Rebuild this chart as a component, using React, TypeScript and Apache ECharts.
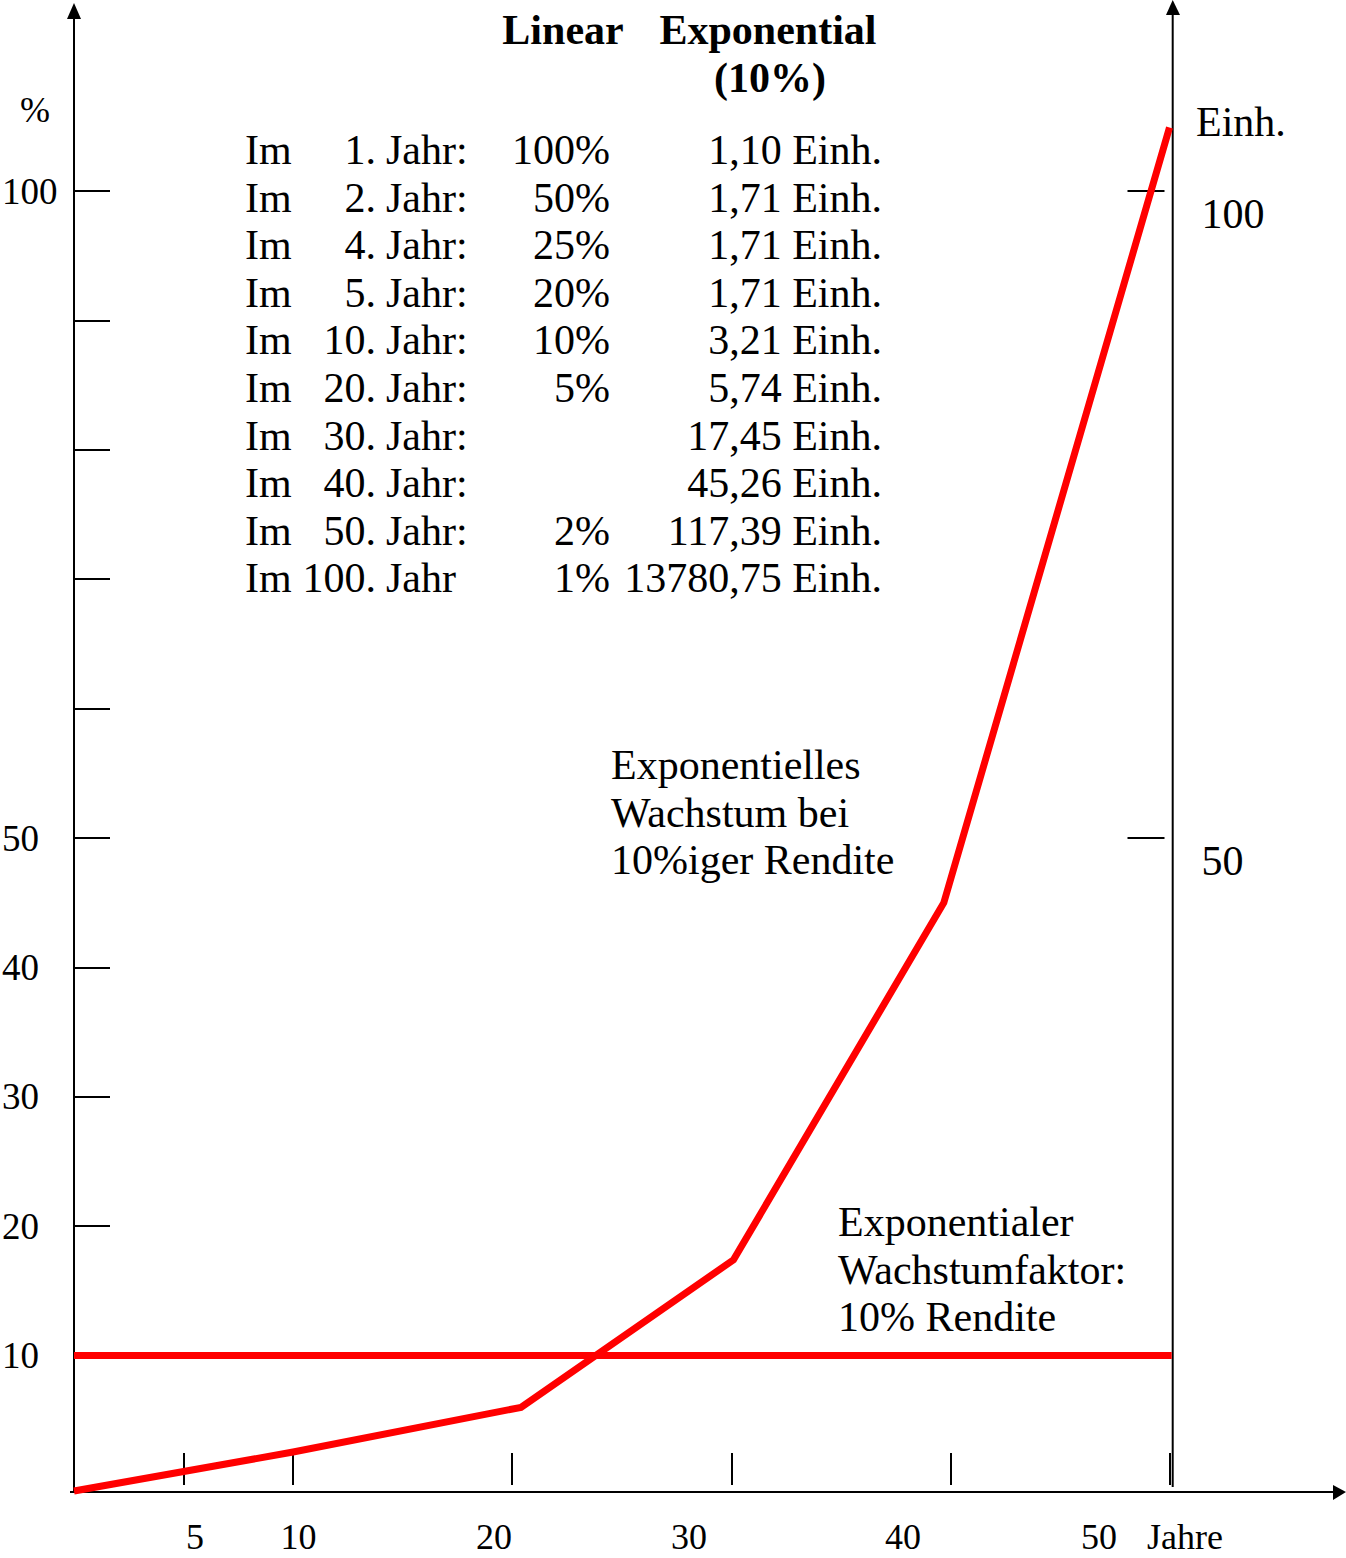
import React, { useEffect, useRef } from "react";
import * as echarts from "echarts";

// ---- data ----
const linearSeries: [number, number][] = [
  [0, 10],
  [50.1, 10],
];
const exponentialSeries: [number, number][] = [
  [0, -0.46],
  [10, 2.55],
  [20.4, 6.0],
  [30.1, 17.4],
  [39.7, 45.0],
  [50, 104.9],
];
const xTickValues = [5, 10, 20, 30, 40, 50];
const xTickLabels = ["5", "10", "20", "30", "40", "50"];
const leftTickValues = [10, 20, 30, 40, 50, 60, 70, 80, 90, 100];
const leftLabelValues = [10, 20, 30, 40, 50, 100];
const rightTickValues = [50, 100];
const rightLabelValues = [50, 100];

const tableYears = ["1.", "2.", "4.", "5.", "10.", "20.", "30.", "40.", "50.", "100."];
const tableYearWords = ["Jahr:", "Jahr:", "Jahr:", "Jahr:", "Jahr:", "Jahr:", "Jahr:", "Jahr:", "Jahr:", "Jahr"];
const tableLinear = ["100%", "50%", "25%", "20%", "10%", "5%", "", "", "2%", "1%"];
const tableExponential = [
  "1,10 Einh.",
  "1,71 Einh.",
  "1,71 Einh.",
  "1,71 Einh.",
  "3,21 Einh.",
  "5,74 Einh.",
  "17,45 Einh.",
  "45,26 Einh.",
  "117,39 Einh.",
  "13780,75 Einh.",
];
const noteExponential = ["Exponentielles", "Wachstum bei", "10%iger Rendite"];
const noteFactor = ["Exponentialer", "Wachstumfaktor:", "10% Rendite"];

// ---- layout ----
const W = 1346;
const H = 1558;
const FONT = '"Liberation Serif", "Times New Roman", serif';
const RED = "#ff0000";
const xLabelCenters = [195, 298.5, 494, 689, 903, 1099];

export default function App() {
  const ref = useRef<HTMLDivElement>(null);

  useEffect(() => {
    if (!ref.current) return;
    const chart = echarts.init(ref.current, null, { renderer: "svg" });

    const txt = (
      text: string,
      x: number,
      y: number,
      size: number,
      align: string = "left",
      weight: string = "normal"
    ) => ({
      type: "text",
      x,
      y,
      silent: true,
      style: {
        text,
        fontSize: size,
        fontFamily: FONT,
        fontWeight: weight,
        lineHeight: size,
        fill: "#000",
        align,
        verticalAlign: "middle",
      },
    });

    const graphics: any[] = [];
    // axis lines with arrows
    const axisStyle = { stroke: "#000", lineWidth: 2 };
    graphics.push({ type: "line", shape: { x1: 74, y1: 1492, x2: 74, y2: 16 }, style: axisStyle, z: 1 });
    graphics.push({ type: "polygon", shape: { points: [[74, 3], [67, 19], [81, 19]] }, style: { fill: "#000" } });
    graphics.push({ type: "line", shape: { x1: 1172.7, y1: 1487, x2: 1172.7, y2: 13 }, style: axisStyle, z: 1 });
    graphics.push({ type: "polygon", shape: { points: [[1172.7, 0], [1166, 15], [1180, 15]] }, style: { fill: "#000" } });
    graphics.push({ type: "line", shape: { x1: 70, y1: 1492, x2: 1335, y2: 1492 }, style: axisStyle, z: 1 });
    graphics.push({ type: "polygon", shape: { points: [[1346, 1492], [1333, 1485], [1333, 1500]] }, style: { fill: "#000" } });

    // title
    graphics.push(txt("Linear", 563, 30, 42, "center", "bold"));
    graphics.push(txt("Exponential", 768, 30, 42, "center", "bold"));
    graphics.push(txt("(10%)", 770, 78, 42, "center", "bold"));

    // table
    tableYears.forEach((yr, i) => {
      const y = 150 + 47.6 * i;
      graphics.push(txt("Im", 245, y, 42, "left"));
      graphics.push(txt(yr, 376, y, 42, "right"));
      graphics.push(txt(tableYearWords[i], 386, y, 42, "left"));
      if (tableLinear[i]) graphics.push(txt(tableLinear[i], 610, y, 42, "right"));
      graphics.push(txt(tableExponential[i], 882, y, 42, "right"));
    });

    // notes
    noteExponential.forEach((t, i) => graphics.push(txt(t, 611, 765 + 47.5 * i, 42, "left")));
    noteFactor.forEach((t, i) => graphics.push(txt(t, 838, 1222 + 47.5 * i, 42, "left")));

    // axis names
    graphics.push(txt("%", 20, 110, 36, "left"));
    graphics.push(txt("Einh.", 1196, 122, 42, "left"));
    graphics.push(txt("Jahre", 1147, 1537, 36, "left"));
    xTickLabels.forEach((t, i) => graphics.push(txt(t, xLabelCenters[i], 1537, 36, "center")));

    const option: any = {
      animation: false,
      backgroundColor: "#fff",
      grid: {
        left: 74,
        top: 191,
        width: 1095.5,
        height: 1294,
        containLabel: false,
        outerBoundsMode: "none",
      },
      xAxis: {
        type: "value",
        min: 0,
        max: 50,
        interval: 5,
        axisLine: { show: false },
        splitLine: { show: false },
        axisLabel: { show: false },
        axisTick: {
          show: true,
          inside: true,
          length: 32,
          customValues: xTickValues,
          lineStyle: { color: "#000", width: 2 },
        },
      },
      yAxis: [
        {
          type: "value",
          position: "left",
          min: 0,
          max: 100,
          interval: 10,
          axisLine: { show: false },
          splitLine: { show: false },
          axisTick: {
            show: true,
            inside: true,
            length: 36,
            customValues: leftTickValues,
            lineStyle: { color: "#000", width: 2 },
          },
          axisLabel: {
            show: true,
            customValues: leftLabelValues,
            align: "left",
            margin: 72,
            fontSize: 37,
            fontFamily: FONT,
            color: "#000",
            formatter: (v: number) => (leftLabelValues.includes(v) ? String(v) : ""),
          },
        },
        {
          type: "value",
          position: "right",
          offset: -5,
          min: 0,
          max: 100,
          interval: 10,
          axisLine: { show: false },
          splitLine: { show: false },
          axisTick: {
            show: true,
            inside: true,
            length: 37,
            customValues: rightTickValues,
            lineStyle: { color: "#000", width: 2 },
          },
          axisLabel: {
            show: true,
            customValues: rightLabelValues,
            align: "left",
            verticalAlign: "top",
            lineHeight: 46,
            margin: 37,
            fontSize: 42,
            fontFamily: FONT,
            color: "#000",
            formatter: (v: number) => (rightLabelValues.includes(v) ? String(v) : ""),
          },
        },
      ],
      series: [
        {
          name: "Linear",
          type: "line",
          data: linearSeries,
          yAxisIndex: 0,
          symbol: "none",
          clip: false,
          lineStyle: { color: RED, width: 7 },
          z: 5,
        },
        {
          name: "Exponential",
          type: "line",
          data: exponentialSeries,
          yAxisIndex: 1,
          symbol: "none",
          clip: false,
          lineStyle: { color: RED, width: 7, join: "miter" },
          z: 5,
        },
      ],
      graphic: graphics,
    };

    chart.setOption(option);
    return () => chart.dispose();
  }, []);

  return (
    <div
      ref={ref}
      style={{ position: "absolute", left: 0, top: 0, width: W, height: H }}
    />
  );
}
